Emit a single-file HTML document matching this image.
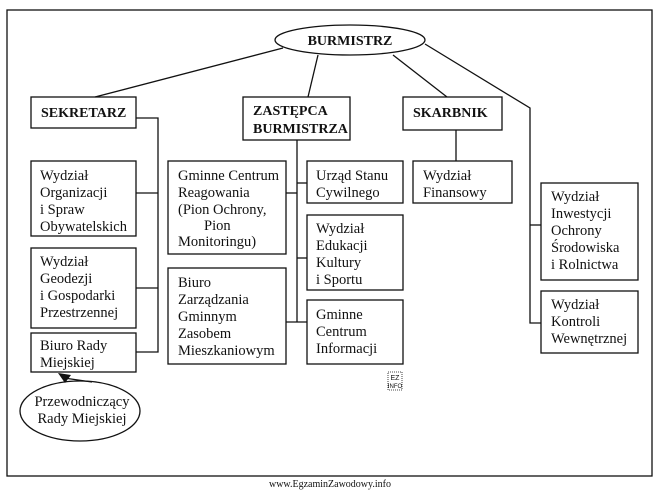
<!DOCTYPE html>
<html><head><meta charset="utf-8"><style>
body{margin:0;background:#fff;}
svg text{font-family:"Liberation Serif",serif;font-size:14.5px;fill:#111;}
.b{font-weight:bold;font-size:14px;}
</style></head><body>
<svg width="660" height="490" viewBox="0 0 660 490" xmlns="http://www.w3.org/2000/svg">
<g fill="none" stroke="#111" stroke-width="1.3">
<rect x="7" y="10" width="645" height="466"/>
<ellipse cx="350" cy="40" rx="75" ry="15" fill="#fff"/>
<line x1="283" y1="48" x2="95" y2="97"/>
<line x1="318" y1="55" x2="308" y2="97"/>
<line x1="393" y1="55" x2="447" y2="97"/>
<polyline points="425,44 530,108 530,323 541,323"/>
<line x1="530" y1="225" x2="541" y2="225"/>
<rect x="31" y="97" width="105" height="31"/>
<polyline points="136,118 158,118 158,352 136,352"/>
<line x1="136" y1="193" x2="158" y2="193"/>
<line x1="136" y1="288" x2="158" y2="288"/>
<rect x="31" y="161" width="105" height="75"/>
<rect x="31" y="248" width="105" height="80"/>
<rect x="31" y="333" width="105" height="39"/>
<ellipse cx="80" cy="411" rx="60" ry="30"/>
<rect x="243" y="97" width="107" height="43"/>
<line x1="297" y1="140" x2="297" y2="322"/>
<line x1="286" y1="193" x2="297" y2="193"/>
<line x1="286" y1="322" x2="307" y2="322"/>
<line x1="297" y1="183" x2="307" y2="183"/>
<line x1="297" y1="258" x2="307" y2="258"/>
<rect x="168" y="161" width="118" height="93"/>
<rect x="168" y="268" width="118" height="96"/>
<rect x="307" y="161" width="96" height="42"/>
<rect x="307" y="215" width="96" height="75"/>
<rect x="307" y="300" width="96" height="64"/>
<rect x="403" y="97" width="99" height="33"/>
<line x1="456" y1="130" x2="456" y2="161"/>
<rect x="413" y="161" width="99" height="42"/>
<rect x="541" y="183" width="97" height="97"/>
<rect x="541" y="291" width="97" height="62"/>
<rect x="388" y="372" width="14" height="18" stroke-width="0.8" stroke-dasharray="1,1"/>
</g>
<line x1="92" y1="382" x2="64" y2="378" stroke="#111" stroke-width="1.3"/>
<polygon points="58,373 71,375 65,383" fill="#111"/>
<text x="350" y="45" text-anchor="middle" class="b">BURMISTRZ</text>
<text x="41" y="117" class="b">SEKRETARZ</text>
<text x="253" y="115" class="b">ZASTĘPCA</text>
<text x="253" y="133" class="b">BURMISTRZA</text>
<text x="413" y="117" class="b">SKARBNIK</text>
<text x="40" y="180">Wydział</text><text x="40" y="197">Organizacji</text><text x="40" y="214">i Spraw</text><text x="40" y="231">Obywatelskich</text>
<text x="40" y="266">Wydział</text><text x="40" y="283">Geodezji</text><text x="40" y="300">i Gospodarki</text><text x="40" y="317">Przestrzennej</text>
<text x="40" y="350">Biuro Rady</text><text x="40" y="367">Miejskiej</text>
<text x="82" y="406" text-anchor="middle">Przewodniczący</text><text x="82" y="423" text-anchor="middle">Rady Miejskiej</text>
<text x="178" y="180">Gminne Centrum</text><text x="178" y="197">Reagowania</text><text x="178" y="214">(Pion Ochrony,</text><text x="204" y="230">Pion</text><text x="178" y="246">Monitoringu)</text>
<text x="178" y="287">Biuro</text><text x="178" y="304">Zarządzania</text><text x="178" y="321">Gminnym</text><text x="178" y="338">Zasobem</text><text x="178" y="355">Mieszkaniowym</text>
<text x="316" y="180">Urząd Stanu</text><text x="316" y="197">Cywilnego</text>
<text x="316" y="233">Wydział</text><text x="316" y="250">Edukacji</text><text x="316" y="267">Kultury</text><text x="316" y="284">i Sportu</text>
<text x="316" y="319">Gminne</text><text x="316" y="336">Centrum</text><text x="316" y="353">Informacji</text>
<text x="423" y="180">Wydział</text><text x="423" y="197">Finansowy</text>
<text x="551" y="201">Wydział</text><text x="551" y="218">Inwestycji</text><text x="551" y="235">Ochrony</text><text x="551" y="252">Środowiska</text><text x="551" y="269">i Rolnictwa</text>
<text x="551" y="309">Wydział</text><text x="551" y="326">Kontroli</text><text x="551" y="343">Wewnętrznej</text>
<text x="395" y="380" text-anchor="middle" style="font-size:7px;font-family:'Liberation Sans',sans-serif">EZ</text>
<text x="395" y="388" text-anchor="middle" style="font-size:6px;font-family:'Liberation Sans',sans-serif">INFO</text>
<text x="330" y="487" text-anchor="middle" style="font-size:10px">www.EgzaminZawodowy.info</text>
</svg>
</body></html>
